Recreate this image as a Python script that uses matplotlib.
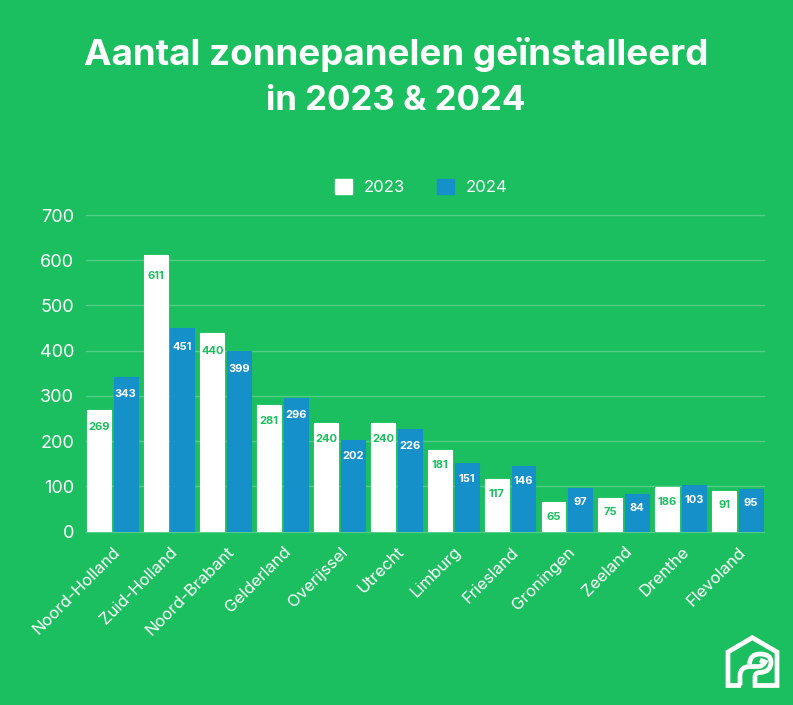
import matplotlib
matplotlib.use("Agg")
import matplotlib.pyplot as plt
import matplotlib.patches as mpatches
import matplotlib.transforms as mtransforms
from matplotlib.path import Path
import numpy as np

GREEN = "#1cbf5f"
BLUE = "#1590c8"
WHITE = "#ffffff"
GRID = "#4fce84"

provinces = ["Noord-Holland", "Zuid-Holland", "Noord-Brabant", "Gelderland",
             "Overijssel", "Utrecht", "Limburg", "Friesland", "Groningen",
             "Zeeland", "Drenthe", "Flevoland"]
values_2023 = [269, 611, 440, 281, 240, 240, 181, 117, 65, 75, 99, 91]
values_2024 = [343, 451, 399, 296, 202, 226, 151, 146, 97, 84, 103, 95]
# the printed label differs from the bar height for Drenthe 2023
labels_2023 = ["269", "611", "440", "281", "240", "240", "181", "117", "65", "75", "186", "91"]
labels_2024 = ["343", "451", "399", "296", "202", "226", "151", "146", "97", "84", "103", "95"]
yticks = [0, 100, 200, 300, 400, 500, 600, 700]

W, H = 793, 705
FONT = "Inter"

fig = plt.figure(figsize=(W / 100, H / 100), dpi=100, facecolor=GREEN)
ax = fig.add_axes([86 / W, 1 - 531.7 / H, 678 / W, 316.7 / H])
ax.set_facecolor(GREEN)

x = np.arange(len(provinces))
bar_w = 0.42
bars_a = ax.bar(x - 0.236, values_2023, bar_w, color=WHITE, edgecolor=WHITE,
                linewidth=0.8, joinstyle="round", zorder=3)
bars_b = ax.bar(x + 0.236, values_2024, bar_w, color=BLUE, edgecolor=BLUE,
                linewidth=0.8, joinstyle="round", zorder=3)

ax.set_xlim(-0.46, 11.466)
ax.set_ylim(0, 700)
ax.set_yticks(yticks)
ax.grid(axis="y", color=GRID, linewidth=1.0, zorder=1, clip_on=False)
ax.set_axisbelow(True)
for name, spine in ax.spines.items():
    spine.set_visible(False)

ax.tick_params(axis="y", length=0, pad=8.5, labelcolor=WHITE, labelsize=13)
ax.tick_params(axis="x", length=0, pad=9, labelcolor=WHITE)
ax.set_xticks(x)
ax.set_xticklabels(provinces, rotation=45, ha="right", rotation_mode="anchor",
                   fontsize=12, fontfamily=FONT, fontweight="normal")
shift = mtransforms.ScaledTranslation(0.5 / 100, 0, fig.dpi_scale_trans)
for lab in ax.get_xticklabels():
    lab.set_transform(lab.get_transform() + shift)
for lab in ax.get_yticklabels():
    lab.set_fontfamily(FONT)
    lab.set_fontweight("normal")


def put_labels(bars, labels, color):
    for bar, txt in zip(bars, labels):
        h = bar.get_height()
        ax.annotate(txt, (bar.get_x() + bar.get_width() / 2, h),
                    xytext=(0, -(13.5 + 0.012 * h)), textcoords="offset pixels",
                    ha="center", va="center", color=color, fontsize=8,
                    fontfamily=FONT, fontweight="bold", zorder=4)


put_labels(bars_a, labels_2023, GREEN)
put_labels(bars_b, labels_2024, WHITE)

handles = [mpatches.Patch(color=WHITE, label="2023"),
           mpatches.Patch(color=BLUE, label="2024")]
leg = fig.legend(handles=handles, ncol=2, frameon=False, loc="center",
                 bbox_to_anchor=(421 / W, 1 - 187 / H), handlelength=1.05,
                 handleheight=1.05, handletextpad=0.68, columnspacing=1.9,
                 prop={"family": FONT, "weight": "normal", "size": 12})
for t in leg.get_texts():
    t.set_color(WHITE)

fig.text(396 / W, 1 - 54 / H, "Aantal zonnepanelen geïnstalleerd", ha="center", va="center",
         color=WHITE, fontsize=26.5, fontfamily=FONT, fontweight="bold")
fig.text(396 / W, 1 - 101.5 / H, "in 2023 & 2024", ha="center", va="center",
         color=WHITE, fontsize=25, fontfamily=FONT, fontweight="bold")

# logo, drawn in pixel coordinates of the picture
logo = fig.add_axes([0, 0, 1, 1], facecolor="none")
logo.set_xlim(0, W)
logo.set_ylim(H, 0)
logo.axis("off")
M, L, C = Path.MOVETO, Path.LINETO, Path.CURVE3


def stroke(points, codes, lw=3.4):
    logo.add_patch(mpatches.PathPatch(Path(points, codes), fill=False, edgecolor=WHITE,
                                      lw=lw, capstyle="butt", joinstyle="miter"))


# house outline with the right foot running into the outer arc of the hook
stroke([(741, 685.5), (728, 685.5), (728, 652), (752.3, 637.7), (777, 652), (777, 685.5),
        (755, 685.5), (755, 677), (755, 672.5), (760, 672.5), (771, 672), (771, 662),
        (771, 654), (760, 654), (750, 654), (749.5, 664)],
       [M, L, L, L, L, L, L, L, C, C, C, C, C, C, C, C])
# left foot running into the inner curl
stroke([(740, 685.5), (740, 676), (740, 666.5), (750, 666.5), (759, 666.5), (763, 666),
        (765, 662), (760, 660)],
       [M, L, C, C, L, C, C, L])

fig.savefig("out.png", dpi=100, facecolor=GREEN)
